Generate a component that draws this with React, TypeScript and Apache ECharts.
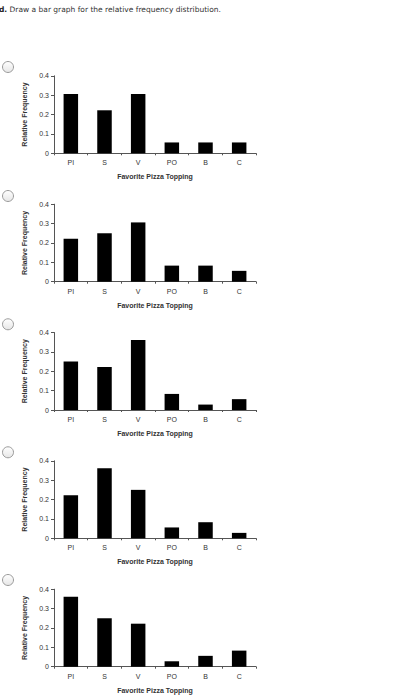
import React, { useEffect, useRef } from "react";
import * as echarts from "echarts";

const categories = ["PI", "S", "V", "PO", "B", "C"];
const optionA = [0.306, 0.222, 0.306, 0.056, 0.056, 0.056];
const optionB = [0.222, 0.25, 0.306, 0.083, 0.083, 0.056];
const optionC = [0.25, 0.222, 0.361, 0.083, 0.028, 0.056];
const optionD = [0.222, 0.361, 0.25, 0.056, 0.083, 0.028];
const optionE = [0.361, 0.25, 0.222, 0.028, 0.056, 0.083];
const seriesList = [optionA, optionB, optionC, optionD, optionE];

const xTitle = "Favorite Pizza Topping";
const yTitle = "Relative Frequency";
const header = "Draw a bar graph for the relative frequency distribution.";

const zeroLines = [153.3, 281.7, 410, 538.3, 666.7];
const radioY = [67, 196, 324.3, 452.3, 580];

export default function App() {
  const ref = useRef<HTMLDivElement>(null);
  useEffect(() => {
    if (!ref.current) return;
    const chart = echarts.init(ref.current, undefined, { renderer: "svg" });
    const gridH = 77.5;
    const font = "'Liberation Sans', Arial, sans-serif";
    const grids = zeroLines.map((z) => ({
      left: 54,
      width: 202,
      top: z - gridH,
      height: gridH,
    }));
    const xAxes = zeroLines.map((_, i) => ({
      type: "category" as const,
      gridIndex: i,
      data: categories,
      name: xTitle,
      nameLocation: "middle" as const,
      nameGap: 20,
      nameTextStyle: { fontFamily: font, fontWeight: "bold", fontSize: 7, color: "#333" },
      axisLine: { lineStyle: { color: "#555", width: 1 } },
      axisTick: { show: true, length: 2, lineStyle: { color: "#555" } },
      axisLabel: { fontFamily: font, fontSize: 7, color: "#333", margin: 6 },
    }));
    const yAxes = zeroLines.map((_, i) => ({
      type: "value" as const,
      gridIndex: i,
      min: 0,
      max: 0.4,
      interval: 0.1,
      name: yTitle,
      nameLocation: "middle" as const,
      nameGap: 14,
      nameTextStyle: { fontFamily: font, fontWeight: "bold", fontSize: 7, color: "#333" },
      axisLine: { show: true, lineStyle: { color: "#555", width: 1 } },
      axisTick: { show: true, length: 3, lineStyle: { color: "#555" } },
      axisLabel: { fontFamily: font, fontSize: 7, color: "#333", margin: 5 },
      splitLine: { show: false },
    }));
    const series = seriesList.map((d, i) => ({
      type: "bar" as const,
      xAxisIndex: i,
      yAxisIndex: i,
      data: d,
      barWidth: 14.5,
      itemStyle: { color: "#000" },
    }));
    const radios = radioY.map((y) => ({
      type: "circle" as const,
      shape: { cx: 8, cy: y, r: 5.5 },
      style: {
        fill: new echarts.graphic.LinearGradient(0, 0, 0, 1, [
          { offset: 0, color: "#ffffff" },
          { offset: 1, color: "#e6e6e6" },
        ]),
        stroke: "#9a9a9a",
        lineWidth: 1,
      },
    }));
    chart.setOption({
      animation: false,
      backgroundColor: "#fff",
      grid: grids,
      xAxis: xAxes,
      yAxis: yAxes,
      series,
      graphic: [
        {
          type: "text",
          x: -1,
          y: 9,
          style: {
            text: "{b|d.} " + header,
            rich: {
              b: { fontWeight: "bold", fontFamily: "'DejaVu Sans', Verdana, sans-serif", fontSize: 7.5, fill: "#222" },
            },
            fontFamily: "'DejaVu Sans', Verdana, sans-serif",
            fontSize: 7.5,
            fill: "#333",
            verticalAlign: "middle",
          },
        },
        ...radios,
      ],
    });
    return () => chart.dispose();
  }, []);
  return <div ref={ref} style={{ position: "absolute", left: 0, top: 0, width: 394, height: 700 }} />;
}
